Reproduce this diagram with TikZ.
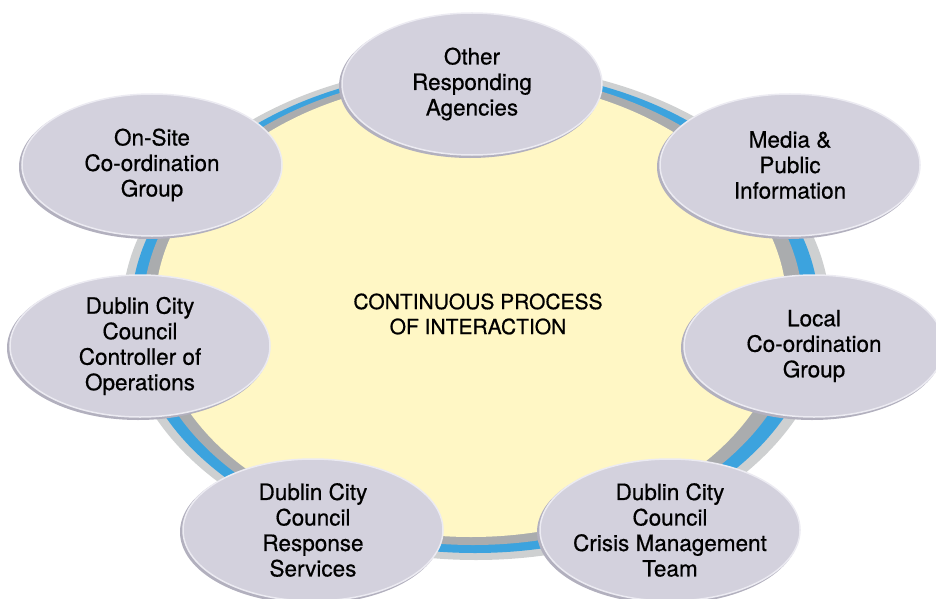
\documentclass[tikz,border=0pt]{standalone}
\usepackage{fontspec}
\setmainfont{TeX Gyre Heros}[FakeBold=0.6]
\usepackage{tikz}
\usetikzlibrary{shapes.geometric}

\definecolor{ovalfill}{RGB}{211,209,221}
\definecolor{ovalrim}{RGB}{236,235,242}
\definecolor{ovalshade}{RGB}{178,176,190}
\definecolor{centrefill}{RGB}{255,247,197}
\definecolor{ringlight}{RGB}{206,208,209}
\definecolor{ringblue}{RGB}{60,163,222}
\definecolor{ringdark}{RGB}{170,172,174}

\begin{document}
\begin{tikzpicture}[x=1pt,y=-1pt]
        \tikzstyle{agencynode}=[
            ellipse,
            draw=ovalrim,
            line width=1.5pt,
            fill=ovalfill,
            minimum width=260pt,
            minimum height=142pt,
            inner sep=-14pt,
            align=center,
            text=black,
            font=\fontsize{22.5}{25.5}\selectfont
        ]
        \tikzstyle{agencyshade}=[
            ellipse,
            fill=ovalshade,
            minimum width=262pt,
            minimum height=144pt,
            inner sep=0pt
        ]

        \useasboundingbox (0,0) rectangle (936,599);

        % ring round the centre
        \fill[ringlight] (476,312) ellipse [x radius=354, y radius=248];
        \fill[ringblue] (475,311) ellipse [x radius=344, y radius=242];
        \fill[ringdark] (473,309) ellipse [x radius=330, y radius=236];
        \fill[centrefill] (471,308) ellipse [x radius=316, y radius=229];

        \node[font=\fontsize{21}{25}\selectfont, align=center] (centre) at (478,314)
            {CONTINUOUS PROCESS\\OF INTERACTION};

        % shading under the ovals
        \foreach \px/\py in {472/84, 790/165, 814/346, 670/530, 313/530, 140/346, 152/165}
            \node[agencyshade] at (\px-2,\py+2) {};

        \node[agencynode] (other) at (472,84) {Other\\Responding\\Agencies};
        \node[agencynode] (media) at (790,165) {Media \&\\Public\\Information};
        \node[agencynode] (local) at (814,346) {Local\\Co-ordination\\Group};
        \node[agencynode] (crisis) at (670,530) {Dublin City\\Council\\Crisis Management\\Team};
        \node[agencynode] (response) at (313,530) {Dublin City\\Council\\Response\\Services};
        \node[agencynode] (controller) at (140,346) {Dublin City\\Council\\Controller of\\Operations};
        \node[agencynode] (onsite) at (152,165) {On-Site\\Co-ordination\\Group};

    \end{tikzpicture}
\end{document}
